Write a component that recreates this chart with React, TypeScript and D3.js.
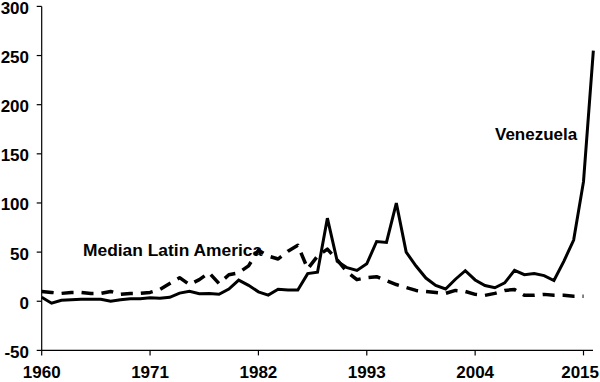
import React from "react";
import * as d3 from "d3";

const years: number[] = d3.range(1960, 2017);
const venezuela: number[] = [
  4, -2, 1, 1.5, 2, 2, 2, 0, 1.5, 2.5,
  2.5, 3.5, 3, 4, 8.3, 10.2, 7.6, 7.8, 7.1, 12.4,
  21.5, 16.2, 9.6, 6.3, 12.2, 11.4, 11.5, 28.1, 29.5, 84.5,
  40.7, 34.2, 31.4, 38.1, 60.8, 59.9, 99.9, 50.0, 35.8, 23.6,
  16.2, 12.5, 22.4, 31.1, 21.7, 16.0, 13.7, 18.7, 31.4, 27.1,
  28.2, 26.1, 21.1, 40.6, 62.2, 121.7, 254.9,
];
const medianLatAm: number[] = [
  10, 9, 8, 9, 9, 8, 8, 10, 7, 8,
  8, 9, 12, 18, 24, 17, 22, 29, 18, 27,
  29, 36, 52, 46, 43, 51, 57, 33, 46, 53,
  42, 30, 22, 24, 25, 21, 17, 14, 11, 10,
  9, 8, 11, 10, 7, 6, 8, 11, 12, 6,
  6, 7, 6, 6, 5, 5,
];
const yTicks: number[] = [-50, 0, 50, 100, 150, 200, 250, 300];
const xTicks: number[] = [1960, 1971, 1982, 1993, 2004, 2015];

const W = 600;
const H = 382;
const FONT = "'Liberation Sans', Arial, Helvetica, sans-serif";

export default function App() {
  const x = d3.scaleLinear().domain([1960, 2015]).range([41.7, 583.5]);
  const y = d3.scaleLinear().domain([-50, 300]).range([350.4, 6.4]);

  const line = d3
    .line<[number, number]>()
    .x((d) => x(d[0]))
    .y((d) => y(d[1]));

  const venPts: [number, number][] = venezuela.map((v, i) => [years[i], v]);
  const medPts: [number, number][] = medianLatAm.map((v, i) => [years[i], v]);

  const x0 = x(1960);
  const yBottom = y(-50);
  const lastTick = xTicks[xTicks.length - 1];

  return (
    <svg
      width={W}
      height={H}
      style={{ position: "absolute", left: 0, top: 0, background: "#fff" }}
      fontFamily={FONT}
    >
      <rect width={W} height={H} fill="#fff" />
      {/* y axis */}
      <line x1={x0} x2={x0} y1={y(300)} y2={yBottom} stroke="#000" strokeWidth={1.2} />
      {yTicks.map((t) => (
        <g key={t}>
          <line x1={x0 - 5} x2={x0} y1={y(t)} y2={y(t)} stroke="#000" strokeWidth={1.2} />
          <text
            x={29}
            y={y(t) + 7.5}
            textAnchor="end"
            fontSize={17}
            fontWeight="bold"
            fill="#000"
          >
            {t}
          </text>
        </g>
      ))}
      {/* x axis */}
      <line x1={x0} x2={593} y1={yBottom} y2={yBottom} stroke="#000" strokeWidth={1.2} />
      {xTicks.map((t) => (
        <g key={t}>
          <line x1={x(t)} x2={x(t)} y1={yBottom} y2={yBottom + 5} stroke="#000" strokeWidth={1.2} />
          <text
            x={t === lastTick ? 599 : x(t)}
            y={378}
            textAnchor={t === lastTick ? "end" : "middle"}
            fontSize={17}
            fontWeight="bold"
            fill="#000"
          >
            {t}
          </text>
        </g>
      ))}
      {/* series */}
      <path
        d={line(medPts) || ""}
        fill="none"
        stroke="#000"
        strokeWidth={3.5}
        strokeDasharray="12 8"
        strokeLinejoin="round"
      />
      <path
        d={line(venPts) || ""}
        fill="none"
        stroke="#000"
        strokeWidth={3}
        strokeLinejoin="miter"
      />
      {/* labels */}
      <text x={495} y={140} fontSize={17} fontWeight="bold" fill="#000">
        Venezuela
      </text>
      <text x={83} y={256} fontSize={17.4} fontWeight="bold" fill="#000">
        Median Latin America
      </text>
    </svg>
  );
}
